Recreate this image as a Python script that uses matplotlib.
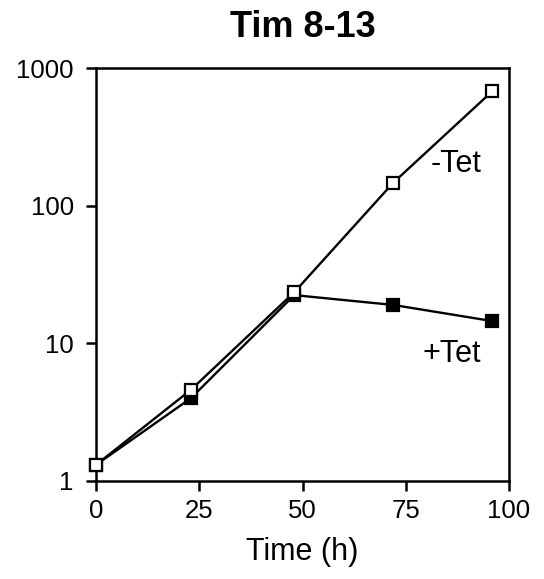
import matplotlib
matplotlib.use("Agg")
import matplotlib.pyplot as plt
from matplotlib.ticker import FixedLocator, NullLocator

plt.rcParams['font.family'] = ['Liberation Sans', 'DejaVu Sans']

# Growth time course (hours) for Tim 8-13 with and without tetracycline
time_h = [0, 23, 48, 72, 96]
minus_tet = [1.31, 4.6, 23.5, 147, 680]
plus_tet = [1.31, 4.0, 22.4, 19.0, 14.5]

x_ticks = [0, 25, 50, 75, 100]
y_ticks = [1, 10, 100, 1000]
y_tick_labels = ["1", "10", "100", "1000"]

fig = plt.figure(figsize=(5.44, 5.79), dpi=100)
ax = fig.add_axes([96 / 544, 1 - 481 / 579, (509 - 96) / 544, (481 - 68) / 579])

ax.plot(time_h, plus_tet, color='black', lw=1.7, marker='s', ms=8.8,
        mfc='black', mec='black', mew=1.6, zorder=3, clip_on=False)
ax.plot(time_h, minus_tet, color='black', lw=1.7, marker='s', ms=8.8,
        mfc='white', mec='black', mew=1.6, zorder=4, clip_on=False)

ax.set_yscale('log')
ax.set_xlim(0, 100)
ax.set_ylim(1, 1000)

ax.xaxis.set_major_locator(FixedLocator(x_ticks))
ax.set_xticklabels([str(v) for v in x_ticks])
ax.yaxis.set_major_locator(FixedLocator(y_ticks))
ax.set_yticklabels(y_tick_labels)
ax.yaxis.set_minor_locator(NullLocator())
ax.xaxis.set_minor_locator(NullLocator())

ax.tick_params(axis='both', direction='out', length=7, width=1.8,
               labelsize=18.5, pad=6)
ax.tick_params(axis='y', pad=9)
for sp in ax.spines.values():
    sp.set_linewidth(1.8)

ax.set_title("Tim 8-13", fontsize=26, fontweight='bold', pad=22)
ax.set_xlabel("Time (h)", fontsize=22, labelpad=10)

ax.text(87.2, 175, "-Tet", fontsize=22, ha='center', va='baseline')
ax.text(86.1, 7.35, "+Tet", fontsize=22, ha='center', va='baseline')

fig.savefig("out.png", dpi=100)
